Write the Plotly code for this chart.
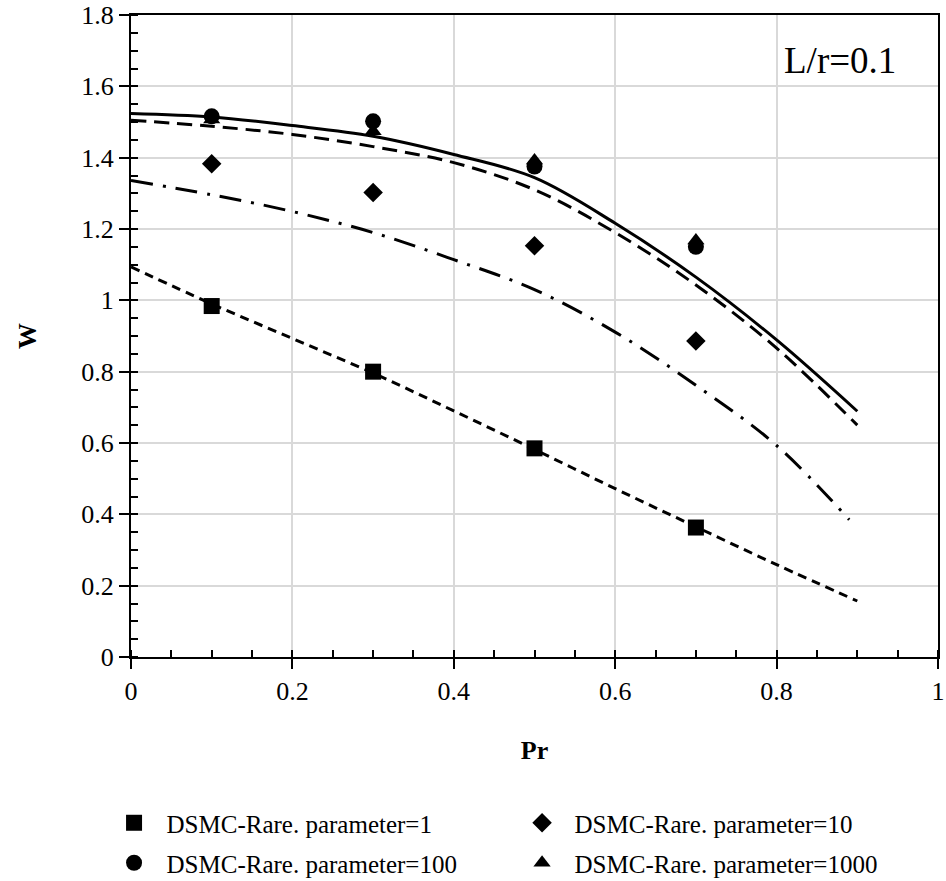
import plotly.graph_objects as go

# ---- data ----
pr_pts = [0.1, 0.3, 0.5, 0.7]
w_rare1 = [0.984, 0.800, 0.585, 0.363]
w_rare10 = [1.383, 1.302, 1.153, 0.886]
w_rare100 = [1.516, 1.502, 1.375, 1.150]
w_rare1000 = [1.507, 1.474, 1.392, 1.168]

pr_line = [0.0, 0.1, 0.2, 0.3, 0.4, 0.5, 0.6, 0.7, 0.8, 0.9]
line_1000 = [1.524, 1.514, 1.490, 1.460, 1.409, 1.344, 1.216, 1.065, 0.889, 0.689]
line_100 = [1.505, 1.488, 1.465, 1.431, 1.386, 1.310, 1.190, 1.043, 0.866, 0.650]
pr_line10 = [0.0, 0.1, 0.2, 0.3, 0.4, 0.5, 0.6, 0.7, 0.8, 0.89]
line_10 = [1.336, 1.296, 1.249, 1.190, 1.114, 1.030, 0.911, 0.762, 0.593, 0.385]
line_1 = [1.094, 0.990, 0.893, 0.796, 0.690, 0.582, 0.472, 0.365, 0.259, 0.157]

x_ticks = [0, 0.2, 0.4, 0.6, 0.8, 1]
y_ticks = [0, 0.2, 0.4, 0.6, 0.8, 1, 1.2, 1.4, 1.6, 1.8]

FONT = "Liberation Serif"
PAD = "\u00a0\u00a0"

fig = go.Figure()

# model curves
fig.add_trace(go.Scatter(x=pr_line, y=line_1000, mode="lines", line=dict(color="black", width=3, shape="spline"), showlegend=False))
fig.add_trace(go.Scatter(x=pr_line, y=line_100, mode="lines", line=dict(color="black", width=3, dash="15px,8px", shape="spline"), showlegend=False))
fig.add_trace(go.Scatter(x=pr_line10, y=line_10, mode="lines", line=dict(color="black", width=3, dash="22px,10px,3px,10px", shape="spline"), showlegend=False))
fig.add_trace(go.Scatter(x=pr_line, y=line_1, mode="lines", line=dict(color="black", width=3, dash="9px,6px", shape="spline"), showlegend=False))

# DSMC markers
fig.add_trace(go.Scatter(x=pr_pts, y=w_rare1, mode="markers", name=PAD + "DSMC-Rare. parameter=1",
                         marker=dict(symbol="square", size=16, color="black"), legend="legend"))
fig.add_trace(go.Scatter(x=pr_pts, y=w_rare10, mode="markers", name=PAD + "DSMC-Rare. parameter=10",
                         marker=dict(symbol="diamond", size=15, color="black"), legend="legend"))
fig.add_trace(go.Scatter(x=pr_pts, y=w_rare100, mode="markers", name=PAD + "DSMC-Rare. parameter=100",
                         marker=dict(symbol="circle", size=16, color="black"), legend="legend2"))
fig.add_trace(go.Scatter(x=pr_pts, y=w_rare1000, mode="markers", name=PAD + "DSMC-Rare. parameter=1000",
                         marker=dict(symbol="triangle-up", size=15, color="black"), legend="legend2"))

# overlay axes for the inside half of major ticks
fig.add_trace(go.Scatter(x=[None], y=[None], xaxis="x2", yaxis="y2", showlegend=False, hoverinfo="skip"))

axis_common = dict(showline=True, linecolor="black", linewidth=2, mirror=True,
                   showgrid=True, gridcolor="#d9d9d9", gridwidth=1.5, zeroline=False,
                   ticks="outside", ticklen=10, tickwidth=2, tickcolor="black", automargin=False,
                   tickfont=dict(family=FONT, size=26, color="black"))

fig.update_layout(
    width=946, height=881,
    paper_bgcolor="white", plot_bgcolor="white",
    margin=dict(l=131, r=8, t=15, b=224, autoexpand=False),
    font=dict(family=FONT, color="black"),
    xaxis=dict(range=[0, 1], tickvals=x_ticks, ticktext=[f"{v:g}" for v in x_ticks],
               title=dict(text="<b>Pr</b>", font=dict(family=FONT, size=26), standoff=36),
               minor=dict(dtick=0.05, ticks="inside", ticklen=7, tickwidth=1.5, tickcolor="black", showgrid=False),
               **axis_common),
    yaxis=dict(range=[0, 1.8], tickvals=y_ticks, ticktext=[f"{v:g}" for v in y_ticks],
               title=dict(text="<b>W</b>", font=dict(family=FONT, size=26), standoff=37),
               minor=dict(dtick=0.05, ticks="inside", ticklen=7, tickwidth=1.5, tickcolor="black", showgrid=False),
               **axis_common),
    xaxis2=dict(overlaying="x", matches="x", range=[0, 1], tickvals=x_ticks, showticklabels=False,
                ticks="inside", ticklen=7, tickwidth=2, tickcolor="black", showgrid=False, zeroline=False,
                showline=False, side="bottom", anchor="y", automargin=False),
    yaxis2=dict(overlaying="y", matches="y", range=[0, 1.8], tickvals=y_ticks, showticklabels=False,
                ticks="inside", ticklen=7, tickwidth=2, tickcolor="black", showgrid=False, zeroline=False,
                showline=False, side="left", anchor="x", automargin=False),
    legend=dict(orientation="h", x=-0.021, y=-0.2586, xanchor="left", yanchor="middle",
                entrywidth=363, font=dict(family=FONT, size=25), bgcolor="rgba(0,0,0,0)"),
    legend2=dict(orientation="h", x=-0.021, y=-0.3209, xanchor="left", yanchor="middle",
                 entrywidth=363, font=dict(family=FONT, size=25), bgcolor="rgba(0,0,0,0)"),
    annotations=[dict(x=0.878, y=1.672, xref="x", yref="y", text="L/r=0.1", showarrow=False,
                      font=dict(family=FONT, size=37, color="black"))],
)

fig.write_html("out.html", config={"displayModeBar": False},
               post_script="document.body.style.margin='0';document.body.style.overflow='hidden';")
